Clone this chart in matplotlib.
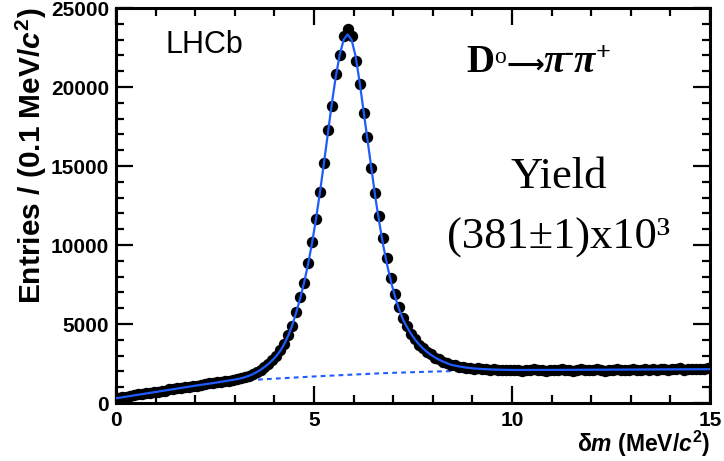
import matplotlib
matplotlib.use("Agg")
import matplotlib.pyplot as plt
from matplotlib.ticker import MultipleLocator
import numpy as np

# delta-m bins of 0.1 MeV/c^2 over 0..15
bin_lo, bin_hi, bin_w = 0.0, 15.0, 0.1

counts = [
    300, 380, 400, 470, 480, 540, 560, 620, 630, 700,
    710, 780, 790, 860, 870, 930, 950, 1020, 1030, 1090,
    1100, 1170, 1180, 1240, 1250, 1320, 1330, 1390, 1400, 1480,
    1500, 1580, 1620, 1740, 1810, 1980, 2090, 2310, 2470, 2740,
    2960, 3350, 3720, 4320, 4900, 5780, 6730, 7610, 8840, 10170,
    11650, 13370, 15210, 17280, 18800, 20800, 22020, 23230, 23650, 23230,
    21660, 20170, 18370, 16820, 14860, 13270, 11840, 10420, 9160, 7890,
    6900, 6050, 5400, 4850, 4360, 4050, 3700, 3490, 3230, 3080,
    2880, 2770, 2610, 2550, 2420, 2390, 2300, 2310, 2220, 2230,
    2170, 2190, 2130, 2160, 2100, 2140, 2080, 2120, 2060, 2110,
    2070, 2120, 2050, 2110, 2080, 2130, 2060, 2100, 2040, 2120,
    2090, 2060, 2130, 2080, 2110, 2050, 2100, 2140, 2070, 2110,
    2080, 2130, 2090, 2050, 2120, 2100, 2150, 2080, 2120, 2090,
    2140, 2110, 2070, 2150, 2120, 2180, 2100, 2160, 2130, 2110,
    2170, 2140, 2190, 2120, 2160, 2140, 2180, 2130, 2170, 2240,
]

# total fit evaluated at the bin centres
fit_total = [
    320, 365, 405, 445, 485, 525, 565, 605, 640, 680,
    720, 760, 800, 840, 880, 920, 960, 1000, 1040, 1080,
    1115, 1150, 1190, 1225, 1260, 1300, 1335, 1375, 1415, 1460,
    1505, 1560, 1630, 1715, 1820, 1950, 2100, 2280, 2480, 2710,
    2980, 3310, 3740, 4270, 4920, 5720, 6620, 7620, 8780, 10120,
    11640, 13330, 15170, 17080, 18950, 20650, 22050, 23000, 23330, 22980,
    21950, 20350, 18500, 16600, 14750, 13000, 11400, 9950, 8700, 7620,
    6700, 5920, 5270, 4800, 4380, 4020, 3720, 3460, 3240, 3050,
    2890, 2750, 2630, 2530, 2430, 2370, 2320, 2280, 2240, 2210,
    2185, 2165, 2150, 2135, 2125, 2115, 2108, 2102, 2097, 2093,
    2090, 2090, 2091, 2091, 2092, 2092, 2093, 2093, 2094, 2095,
    2095, 2096, 2097, 2097, 2098, 2099, 2100, 2100, 2101, 2102,
    2103, 2104, 2105, 2106, 2107, 2108, 2109, 2110, 2111, 2112,
    2113, 2114, 2115, 2116, 2118, 2119, 2120, 2121, 2123, 2124,
    2125, 2127, 2128, 2130, 2131, 2133, 2134, 2136, 2138, 2140,
]
fit_at_lo, fit_at_hi = 300, 2142

# combinatorial background component, sampled every 0.5 MeV/c^2
bkg_dm = [0.0, 0.5, 1.0, 1.5, 2.0, 2.5, 3.0, 3.5, 4.0, 4.5, 5.0, 5.5, 6.0, 6.5, 7.0,
          7.5, 8.0, 8.5, 9.0, 9.5, 10.0, 10.5, 11.0, 11.5, 12.0, 12.5, 13.0,
          13.5, 14.0, 14.5, 15.0]
bkg_val = [300, 500, 690, 890, 1080, 1250, 1380, 1470, 1540, 1610, 1680, 1740,
           1800, 1860, 1910, 1950, 1990, 2020, 2040, 2055, 2065, 2072, 2078,
           2084, 2090, 2097, 2105, 2113, 2122, 2132, 2142]

BLUE = "#1e5cff"
SANS = "Liberation Sans"
SERIF = ["Liberation Serif", "DejaVu Sans"]

plt.rcParams["font.family"] = [SANS, "DejaVu Sans"]
plt.rcParams["font.weight"] = "bold"
plt.rcParams["mathtext.fontset"] = "custom"
plt.rcParams["mathtext.rm"] = "Liberation Sans:bold"
plt.rcParams["mathtext.bf"] = "Liberation Sans:bold"
plt.rcParams["mathtext.it"] = "Liberation Sans:italic:bold"

centers = np.arange(bin_lo + bin_w / 2, bin_hi, bin_w)
fit_x = np.concatenate([[bin_lo], centers, [bin_hi]])
fit_y = np.concatenate([[fit_at_lo], fit_total, [fit_at_hi]])

fig = plt.figure(figsize=(7.24, 4.61), dpi=100)
ax = fig.add_axes([0.1602, 0.1258, 0.8205, 0.8568])

ax.plot(bkg_dm, bkg_val, color=BLUE, lw=1.5, ls=(0, (2.3, 2.0)), zorder=1)
ax.plot(centers, counts, "o", color="black", ms=8.2, mew=0, zorder=2)
ax.plot(fit_x, fit_y, color=BLUE, lw=1.6, zorder=3)

ax.set_xlim(0, 15)
ax.set_ylim(0, 25000)
ax.xaxis.set_major_locator(MultipleLocator(5))
ax.xaxis.set_minor_locator(MultipleLocator(1))
ax.yaxis.set_major_locator(MultipleLocator(5000))
ax.yaxis.set_minor_locator(MultipleLocator(1000))
ax.tick_params(which="both", direction="in", top=True, right=True, width=1.6,
               labelsize=15)
ax.tick_params(which="major", length=12)
ax.tick_params(which="minor", length=6)
ax.tick_params(axis="x", pad=6)
ax.tick_params(axis="y", pad=5)
for sp in ax.spines.values():
    sp.set_linewidth(2.2)

ax.set_xlabel(r"δ$m$ (MeV/$c^{2}$)", fontsize=16.5, fontweight="bold",
              loc="right", labelpad=-1)
ax.set_ylabel(r"Entries / (0.1 MeV/$c^{2}$)", fontsize=21.5, fontweight="bold",
              loc="top", labelpad=1)

ax.text(0.083, 0.885, "LHCb", transform=ax.transAxes, fontsize=22,
        fontweight="normal", family=SANS)

# decay label: pieces laid out left to right on a common baseline (display px)
decay_pieces = [
    # text, size, weight, style, raise (pt)
    ("D", 28, "bold", "normal", 0),
    ("o", 17, "normal", "normal", 7),
    ("\u27f6", 19, "bold", "normal", 0),
    ("\u03c0", 28, "bold", "italic", 0),
    ("-", 19, "bold", "normal", 9),
    ("\u03c0", 28, "bold", "italic", 0),
    ("+", 19, "bold", "normal", 9),
]
renderer = fig.canvas.get_renderer()
px, py = ax.transAxes.transform((0.59, 0.837))
for s, size, weight, style, rise in decay_pieces:
    piece = ax.text(px, py + rise * fig.dpi / 72, s, transform=None,
                    fontsize=size, fontweight=weight, fontstyle=style,
                    family=SERIF, va="baseline", ha="left")
    px = piece.get_window_extent(renderer).x1

ax.text(0.745, 0.545, "Yield", transform=ax.transAxes, fontsize=32,
        fontweight="normal", family=SERIF, ha="center", va="baseline")
ax.text(0.745, 0.392, "(381\u00b11)x10\u00b3", transform=ax.transAxes,
        fontsize=32, fontweight="normal", family=SERIF, ha="center",
        va="baseline")

fig.savefig("out.png", dpi=100)
